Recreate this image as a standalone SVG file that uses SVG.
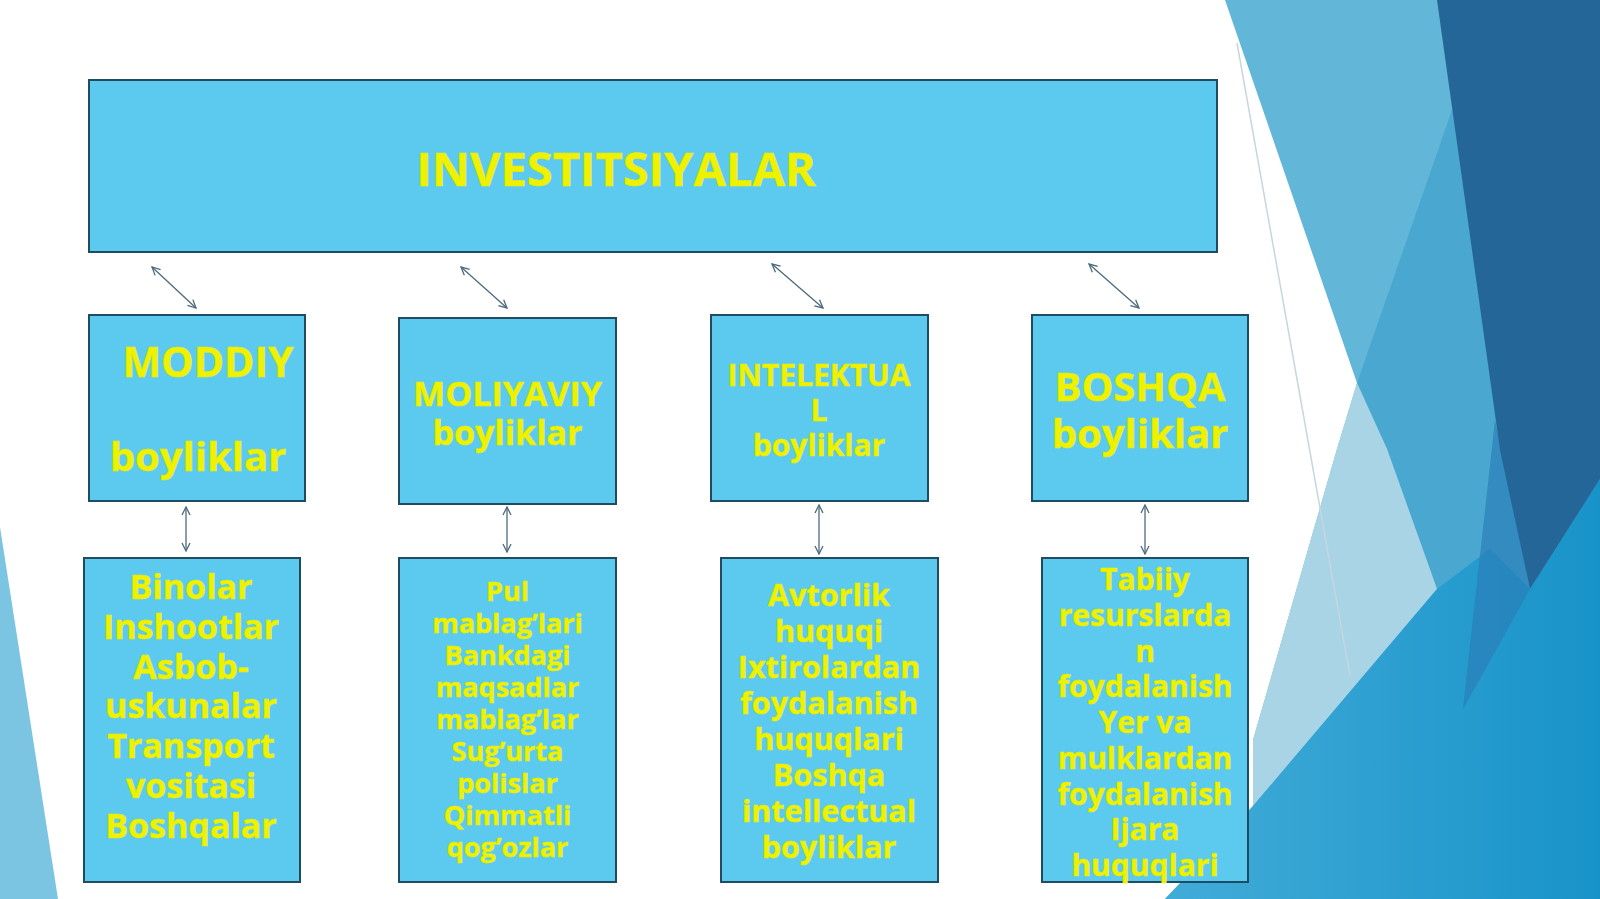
<svg xmlns="http://www.w3.org/2000/svg" width="1600" height="899" viewBox="0 0 1600 899">
<defs>
<style>
.box{fill:#5cc9ef;stroke:#1f4c60;stroke-width:2}
.t{font-family:"Open Sans","Noto Sans","Liberation Sans",sans-serif;font-weight:700;fill:#eef200;stroke:#e4ea00;stroke-width:0.5;text-anchor:middle}
.c{stroke:#4d6a7c;stroke-width:1.3;fill:none;marker-start:url(#ah);marker-end:url(#ah)}
</style>
<marker id="ah" viewBox="0 0 10 10" refX="9" refY="5" markerWidth="10" markerHeight="10" markerUnits="userSpaceOnUse" orient="auto-start-reverse">
<path d="M1,1 L9,5 L1,9" fill="none" stroke="#4d6a7c" stroke-width="1.3"/>
</marker>
<linearGradient id="gb" x1="0" y1="0" x2="1" y2="0">
<stop offset="0" stop-color="#42acd8"/>
<stop offset="1" stop-color="#1893c9"/>
</linearGradient>
</defs>
<g id="background">
<rect x="0" y="0" width="1600" height="899" fill="#ffffff"/>
<polygon points="0,527 58,899 0,899" fill="#7cc5e2"/>
<polygon points="1225,0 1600,0 1600,899 1165,899 1253,806 1253,740 1337,449 1357,383" fill="#62b7d8"/>
<polygon points="1452,110 1600,110 1600,600 1437,589 1387,449 1357,383" fill="#4aa8d0"/>
<polygon points="1357,383 1387,449 1437,589 1253,806 1253,740 1337,449" fill="#a9d4e6"/>
<polygon points="1600,479 1600,899 1165,899 1253,806 1437,589 1490,549 1530,589" fill="url(#gb)"/>
<polygon points="1495,420 1530,589 1463,709" fill="#2a7fb8" opacity="0.7"/>
<polygon points="1437,0 1600,0 1600,479 1530,589 1500,450" fill="#256699"/>
<line x1="1237" y1="43" x2="1350" y2="676" stroke="#c6d6de" stroke-width="1.5"/>
</g>
<g id="connectors">
<line class="c" x1="152" y1="267" x2="196" y2="308"/>
<line class="c" x1="461" y1="267" x2="507" y2="308"/>
<line class="c" x1="772" y1="264" x2="823" y2="308"/>
<line class="c" x1="1089" y1="264" x2="1139" y2="308"/>
<line class="c" x1="186" y1="507" x2="186" y2="551"/>
<line class="c" x1="507" y1="507" x2="507" y2="552"/>
<line class="c" x1="819" y1="505" x2="819" y2="554"/>
<line class="c" x1="1145" y1="505" x2="1145" y2="554"/>
</g>
<g id="investitsiyalar">
<rect class="box" x="89" y="80" width="1128" height="172"/>
<text class="t" x="616" y="186" font-size="47">INVESTITSIYALAR</text>
</g>
<g id="moddiy">
<rect class="box" x="89" y="315" width="216" height="186"/>
<text class="t" x="208" y="377" font-size="41">MODDIY</text>
<text class="t" x="198" y="471" font-size="40">boyliklar</text>
</g>
<g id="moliyaviy">
<rect class="box" x="399" y="318" width="217" height="186"/>
<text class="t" x="507.5" y="406" font-size="34">MOLIYAVIY</text>
<text class="t" x="507.5" y="445" font-size="34">boyliklar</text>
</g>
<g id="intelektual">
<rect class="box" x="711" y="315" width="217" height="186"/>
<text class="t" x="819" y="386" font-size="30">INTELEKTUA</text>
<text class="t" x="819" y="421" font-size="30">L</text>
<text class="t" x="819" y="456" font-size="30">boyliklar</text>
</g>
<g id="boshqa">
<rect class="box" x="1032" y="315" width="216" height="186"/>
<text class="t" x="1140" y="401" font-size="40">BOSHQA</text>
<text class="t" x="1140" y="448" font-size="40">boyliklar</text>
</g>
<g id="moddiy-list">
<rect class="box" x="84" y="558" width="216" height="324"/>
<text class="t" x="191" font-size="34"><tspan x="191" y="599">Binolar</tspan><tspan x="191" y="639">Inshootlar</tspan><tspan x="191" y="679">Asbob-</tspan><tspan x="191" y="718">uskunalar</tspan><tspan x="191" y="758">Transport</tspan><tspan x="191" y="798">vositasi</tspan><tspan x="191" y="838">Boshqalar</tspan></text>
</g>
<g id="moliyaviy-list">
<rect class="box" x="399" y="558" width="217" height="324"/>
<text class="t" x="507.5" font-size="27"><tspan x="507.5" y="601">Pul</tspan><tspan x="507.5" y="633">mablag’lari</tspan><tspan x="507.5" y="665">Bankdagi</tspan><tspan x="507.5" y="697">maqsadlar</tspan><tspan x="507.5" y="729">mablag’lar</tspan><tspan x="507.5" y="761">Sug’urta</tspan><tspan x="507.5" y="793">polislar</tspan><tspan x="507.5" y="825">Qimmatli</tspan><tspan x="507.5" y="857">qog’ozlar</tspan></text>
</g>
<g id="intelektual-list">
<rect class="box" x="721" y="558" width="217" height="324"/>
<text class="t" x="829" font-size="30.5"><tspan x="829" y="606">Avtorlik</tspan><tspan x="829" y="642">huquqi</tspan><tspan x="829" y="678">Ixtirolardan</tspan><tspan x="829" y="714">foydalanish</tspan><tspan x="829" y="750">huquqlari</tspan><tspan x="829" y="786">Boshqa</tspan><tspan x="829" y="822">intellectual</tspan><tspan x="829" y="858">boyliklar</tspan></text>
</g>
<g id="boshqa-list">
<rect class="box" x="1042" y="558" width="206" height="324"/>
<text class="t" x="1145" font-size="30"><tspan x="1145" y="590">Tabiiy</tspan><tspan x="1145" y="626">resurslarda</tspan><tspan x="1145" y="662">n</tspan><tspan x="1145" y="697">foydalanish</tspan><tspan x="1145" y="733">Yer va</tspan><tspan x="1145" y="769">mulklardan</tspan><tspan x="1145" y="805">foydalanish</tspan><tspan x="1145" y="840">Ijara</tspan><tspan x="1145" y="876">huquqlari</tspan></text>
</g>
</svg>
